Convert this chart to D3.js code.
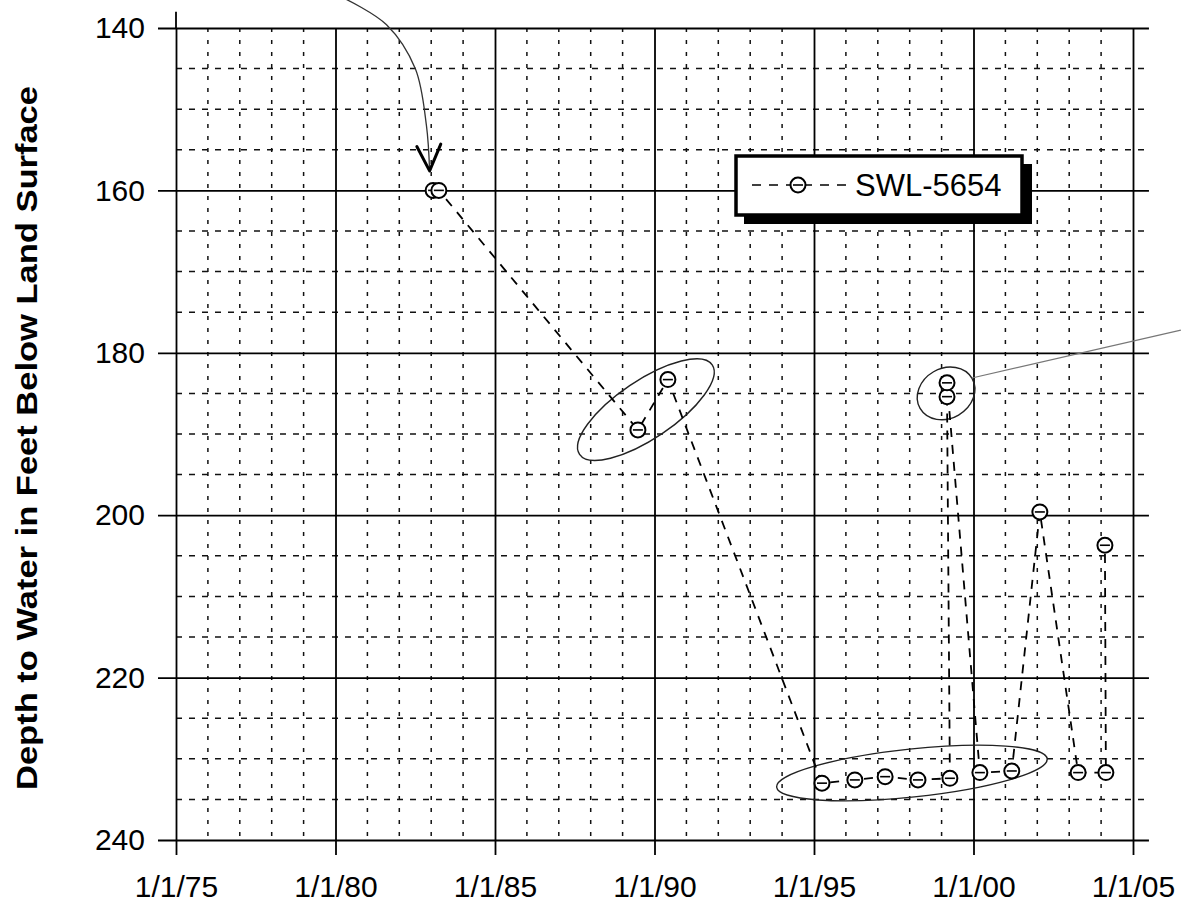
<!DOCTYPE html>
<html>
<head>
    <meta charset="utf-8">
    <title>SWL-5654 Depth to Water</title>
    <style type="text/css">
        body { margin: 0; background: #fff; }
        svg { display: block; font-family: "Liberation Sans", Arial, sans-serif; }
    </style>
</head>
<body>
    <script src="https://cdn.jsdelivr.net/npm/d3@7"></script>
    <script>
        // measurements, in plotting order (decimal year, feet below land surface)
        var years = [1983.06, 1983.24, 1989.48, 1990.42, 1995.25, 1996.28, 1997.23, 1998.26,
            1999.26, 1999.17, 1999.17, 2000.2, 2001.2, 2002.08, 2003.28, 2004.15, 2004.12];
        var depths = [160.0, 160.0, 189.5, 183.3, 233.0, 232.6, 232.2, 232.6,
            232.4, 185.4, 183.7, 231.7, 231.5, 199.6, 231.7, 231.7, 203.7];
        var seriesName = "SWL-5654";

        var xTickYears = [1975, 1980, 1985, 1990, 1995, 2000, 2005];
        var xTickLabels = ["1/1/75", "1/1/80", "1/1/85", "1/1/90", "1/1/95", "1/1/00", "1/1/05"];
        var yTicks = [140, 160, 180, 200, 220, 240];

        var width = 1184,
            height = 905;

        var x = d3.scaleLinear().domain([1975, 2005]).range([176, 1133]);
        var y = d3.scaleLinear().domain([140, 240]).range([28, 840]);
        var xEnd = x(2005.5);

        var svg = d3.select("body").append("svg")
            .attr("width", width)
            .attr("height", height);

        svg.append("rect").attr("width", width).attr("height", height).attr("fill", "#fff");

        // minor grid
        var minorYears = d3.range(1976, 2005).filter(function (d) { return d % 5 !== 0; });
        var minorDepths = d3.range(145, 240, 5).filter(function (d) { return d % 20 !== 0; });

        svg.append("g").selectAll("line")
            .data(minorYears)
            .enter().append("line")
            .attr("x1", function (d) { return x(d); })
            .attr("x2", function (d) { return x(d); })
            .attr("y1", y(140))
            .attr("y2", y(240))
            .attr("stroke", "#111")
            .attr("stroke-width", 1.5)
            .attr("stroke-dasharray", "4,8");

        svg.append("g").selectAll("line")
            .data(minorDepths)
            .enter().append("line")
            .attr("x1", x(1975))
            .attr("x2", xEnd - 4)
            .attr("y1", function (d) { return y(d); })
            .attr("y2", function (d) { return y(d); })
            .attr("stroke", "#111")
            .attr("stroke-width", 1.5)
            .attr("stroke-dasharray", "6,7");

        // major grid + labels via axes
        var yAxis = d3.axisLeft(y)
            .tickValues(yTicks)
            .tickSize(-(xEnd - 158))
            .tickPadding(13)
            .tickFormat(d3.format("d"));

        var gy = svg.append("g")
            .attr("transform", "translate(158,0)")
            .call(yAxis);

        var xAxis = d3.axisBottom(x)
            .tickValues(xTickYears)
            .tickSize(-(855 - y(140)))
            .tickPadding(21)
            .tickFormat(function (d, i) { return xTickLabels[i]; });

        var gx = svg.append("g")
            .attr("transform", "translate(0,855)")
            .call(xAxis);

        [gx, gy].forEach(function (g) {
            g.select(".domain").remove();
            g.selectAll(".tick line").attr("stroke", "#000").attr("stroke-width", 1.8);
            g.selectAll(".tick text")
                .attr("fill", "#000")
                .style("font-size", "30px")
                .style("font-family", "'Liberation Sans', Arial, sans-serif");
        });

        // left axis runs a little above the top line
        svg.append("line")
            .attr("x1", x(1975)).attr("x2", x(1975))
            .attr("y1", y(138)).attr("y2", y(140))
            .attr("stroke", "#000").attr("stroke-width", 1.8);

        // axis title
        svg.append("text")
            .attr("transform", "translate(37,438) rotate(-90)")
            .attr("text-anchor", "middle")
            .attr("textLength", 704)
            .attr("lengthAdjust", "spacingAndGlyphs")
            .style("font-size", "29px")
            .style("font-weight", "bold")
            .text("Depth to Water in Feet Below Land Surface");

        // hand-drawn annotations on the scanned sheet
        var ink = d3.line()
            .x(function (d) { return x(d[0]); })
            .y(function (d) { return y(d[1]); })
            .curve(d3.curveCatmullRom);

        var arrowPath = [[1980.3, 136.4], [1981.6, 139.6], [1982.5, 145], [1982.85, 152], [1982.95, 157.6]];
        var arrowHead = [[1982.55, 154.6], [1982.95, 157.6], [1983.3, 154.3]];
        svg.append("path").attr("d", ink(arrowPath))
            .attr("fill", "none").attr("stroke", "#333").attr("stroke-width", 1.3);
        svg.append("path").attr("d", d3.line().x(function (d) { return x(d[0]); }).y(function (d) { return y(d[1]); })(arrowHead))
            .attr("fill", "none").attr("stroke", "#000").attr("stroke-width", 3)
            .attr("stroke-linejoin", "round").attr("stroke-linecap", "round");

        var loops = [
            { cx: 1989.73, cy: 187.0, rx: 80, ry: 29, a: -34 },
            { cx: 1999.14, cy: 185.0, rx: 30, ry: 25, a: -30 },
            { cx: 1998.07, cy: 231.75, rx: 136, ry: 24, a: -6 }
        ];
        svg.append("g").selectAll("ellipse")
            .data(loops)
            .enter().append("ellipse")
            .attr("transform", function (d) { return "translate(" + x(d.cx) + "," + y(d.cy) + ") rotate(" + d.a + ")"; })
            .attr("rx", function (d) { return d.rx; })
            .attr("ry", function (d) { return d.ry; })
            .attr("fill", "none")
            .attr("stroke", "#222")
            .attr("stroke-width", 1.4);

        svg.append("line")
            .attr("x1", x(1999.95)).attr("y1", y(183.1))
            .attr("x2", x(2006.5)).attr("y2", y(177.2))
            .attr("stroke", "#777").attr("stroke-width", 1.2);

        // series line
        var pts = years.map(function (d, i) { return [d, depths[i]]; });
        var line = d3.line()
            .x(function (d) { return x(d[0]); })
            .y(function (d) { return y(d[1]); });

        svg.append("path")
            .datum(pts)
            .attr("d", line)
            .attr("fill", "none")
            .attr("stroke", "#000")
            .attr("stroke-width", 1.8)
            .attr("stroke-dasharray", "9,8");

        function marker(g) {
            g.append("circle").attr("r", 7.5)
                .attr("fill", "#fff").attr("stroke", "#000").attr("stroke-width", 2);
            g.append("line").attr("x1", -5).attr("x2", 5)
                .attr("stroke", "#000").attr("stroke-width", 1.6);
        }

        svg.append("g").selectAll("g")
            .data(pts)
            .enter().append("g")
            .attr("transform", function (d) { return "translate(" + x(d[0]) + "," + y(d[1]) + ")"; })
            .call(marker);

        // legend
        var lg = svg.append("g").attr("transform", "translate(736,156)");
        lg.append("rect").attr("x", 8).attr("y", 8).attr("width", 288).attr("height", 60).attr("fill", "#000");
        lg.append("rect").attr("x", 0).attr("y", 0).attr("width", 286).attr("height", 59)
            .attr("fill", "#fff").attr("stroke", "#000").attr("stroke-width", 3.5);
        lg.append("line").attr("x1", 16).attr("x2", 110).attr("y1", 29).attr("y2", 29)
            .attr("stroke", "#000").attr("stroke-width", 1.5).attr("stroke-dasharray", "9,8");
        lg.append("g").attr("transform", "translate(62,29)").call(marker);
        lg.append("text").attr("x", 119).attr("y", 40)
            .style("font-size", "31px")
            .text(seriesName);
    </script>
</body>
</html>
